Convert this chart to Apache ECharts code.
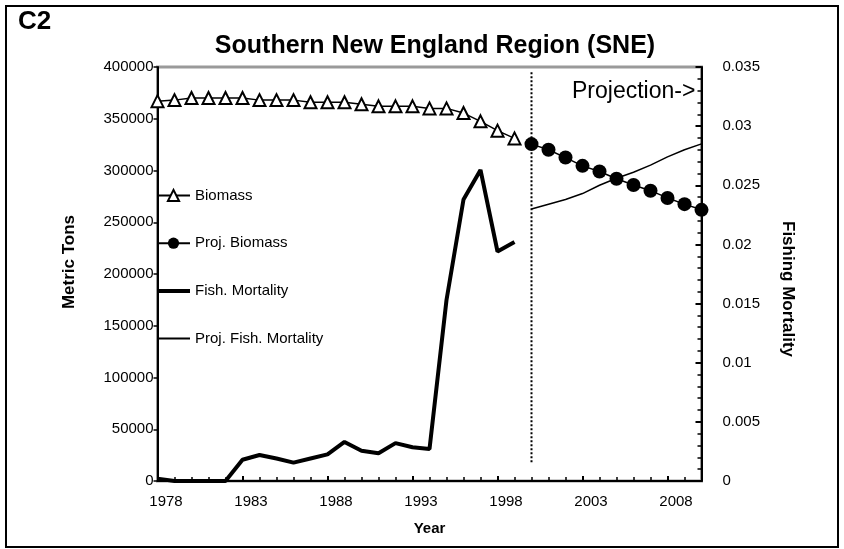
<!DOCTYPE html>
<html>
<head>
<meta charset="utf-8">
<title>Southern New England Region (SNE)</title>
<script src="https://cdn.jsdelivr.net/npm/echarts@6/dist/echarts.min.js"></script>
<style>
html, body { margin: 0; padding: 0; background: #fff; }
#chart { width: 844px; height: 549px; }
</style>
</head>
<body>
<div id="chart"></div>
<script>
// 历史年份 1978-1999, 预测年份 2000-2010
var histYears = [1978, 1979, 1980, 1981, 1982, 1983, 1984, 1985, 1986, 1987, 1988,
	1989, 1990, 1991, 1992, 1993, 1994, 1995, 1996, 1997, 1998, 1999];
var projYears = [2000, 2001, 2002, 2003, 2004, 2005, 2006, 2007, 2008, 2009, 2010];

// metric tons
var biomass = [367000, 368000, 370000, 370000, 370000, 370000, 368000, 368000, 368000,
	366000, 366000, 366000, 364000, 362000, 362000, 362000, 360000, 360000, 355500,
	347500, 338500, 331000];
var projBiomass = [325500, 320000, 312500, 304500, 299000, 292000, 286000, 280500,
	273500, 267500, 262000];

// fishing mortality (right axis)
var fishMortality = [0.0002, 0, 0, 0, 0, 0.0018, 0.0022, 0.0019, 0.00155, 0.0019,
	0.00225, 0.0033, 0.00255, 0.00235, 0.0032, 0.00285, 0.0027, 0.0153, 0.0238,
	0.0263, 0.0194, 0.0202];
var projFishMortality = [0.0230, 0.0234, 0.0238, 0.0243, 0.0250, 0.0256, 0.0261,
	0.0267, 0.0274, 0.0280, 0.0285];

// dotted projection marker (year, metric tons)
var projectionMark = [[2000, 18000], [2000, 395000]];

var yearTicks = { min: 1978, max: 2010, interval: 5 };

function pairs(xs, ys) {
	var out = [];
	for (var i = 0; i < xs.length; i++) {
		out.push([xs[i], ys[i]]);
	}
	return out;
}

// 不要千位分隔符
function plain(v) {
	return String(v);
}

var chart = echarts.init(document.getElementById('chart'), null, { renderer: 'canvas' });
var font = '"Liberation Sans", Arial, sans-serif';

chart.setOption({
	animation: false,
	backgroundColor: '#fff',
	textStyle: { fontFamily: font, color: '#000' },
	title: {
		text: 'Southern New England Region (SNE)',
		left: 430,
		textAlign: 'center',
		top: 29,
		textStyle: { fontSize: 25, fontWeight: 'bold', color: '#000', fontFamily: font }
	},
	graphic: [{
		type: 'rect',
		shape: { x: 6, y: 6, width: 832, height: 541 },
		style: { fill: null, stroke: '#000', lineWidth: 2 },
		silent: true
	}, {
		type: 'text',
		left: 18,
		top: 9,
		style: { text: 'C2', font: 'bold 26px ' + font, fill: '#000' }
	}, {
		type: 'text',
		left: 572,
		top: 80,
		style: { text: 'Projection->', font: '23px ' + font, fill: '#000' }
	}],
	legend: {
		orient: 'vertical',
		left: 150,
		top: 183,
		itemWidth: 33,
		itemHeight: 14,
		itemGap: 32.7,
		textStyle: { fontSize: 15, color: '#000', fontFamily: font },
		data: [
			{ name: 'Biomass' },
			{ name: 'Proj. Biomass' },
			{ name: 'Fish. Mortality', lineStyle: { width: 4 }, itemStyle: { opacity: 0 } },
			{ name: 'Proj. Fish. Mortality', itemStyle: { opacity: 0 } }
		]
	},
	grid: {
		left: 157.5,
		right: 142.5,
		top: 67,
		bottom: 68,
		containLabel: false,
		show: true,
		borderColor: '#9a9a9a',
		borderWidth: 3
	},
	xAxis: {
		type: 'value',
		min: yearTicks.min,
		max: yearTicks.max,
		interval: yearTicks.interval,
		name: 'Year',
		nameLocation: 'middle',
		nameGap: 40,
		nameTextStyle: { fontSize: 15, fontWeight: 'bold', color: '#000' },
		axisLine: { lineStyle: { color: '#000', width: 2 } },
		axisTick: { inside: true, length: 5, lineStyle: { color: '#000', width: 2 } },
		minorTick: { show: true, splitNumber: 5, length: 4, lineStyle: { color: '#000', width: 1.5 } },
		axisLabel: { fontSize: 15, color: '#000', margin: 13, padding: [0, 0, 0, 17], showMaxLabel: false, formatter: plain },
		splitLine: { show: false }
	},
	yAxis: [{
		type: 'value',
		min: 0,
		max: 400000,
		interval: 50000,
		name: 'Metric Tons',
		nameLocation: 'middle',
		nameGap: 80,
		nameTextStyle: { fontSize: 17, fontWeight: 'bold', color: '#000', padding: [0, 0, 0, 24] },
		axisLine: { show: true, lineStyle: { color: '#000', width: 2 } },
		axisTick: { show: true, length: 4, lineStyle: { color: '#000', width: 1.5 } },
		axisLabel: { fontSize: 15, color: '#000', margin: 4, formatter: plain },
		splitLine: { show: false }
	}, {
		type: 'value',
		position: 'right',
		min: 0,
		max: 0.035,
		interval: 0.005,
		name: 'Fishing Mortality',
		nameLocation: 'middle',
		nameRotate: -90,
		nameGap: 78,
		nameTextStyle: { fontSize: 17, fontWeight: 'bold', color: '#000', padding: [0, 0, 0, 30] },
		axisLine: { show: true, lineStyle: { color: '#000', width: 2 } },
		axisTick: { show: true, inside: true, length: 6, lineStyle: { color: '#000', width: 2 } },
		minorTick: { show: true, splitNumber: 5, length: 4, lineStyle: { color: '#000', width: 1.5 } },
		axisLabel: { fontSize: 15, color: '#000', margin: 21 },
		splitLine: { show: false }
	}],
	series: [{
		name: 'Fish. Mortality',
		type: 'line',
		yAxisIndex: 1,
		symbol: 'none',
		data: pairs(histYears, fishMortality),
		lineStyle: { color: '#000', width: 4 },
		itemStyle: { color: '#000' }
	}, {
		name: 'Proj. Fish. Mortality',
		type: 'line',
		yAxisIndex: 1,
		symbol: 'none',
		data: pairs(projYears, projFishMortality),
		lineStyle: { color: '#000', width: 1.5 },
		itemStyle: { color: '#000' }
	}, {
		name: 'Biomass',
		type: 'line',
		yAxisIndex: 0,
		symbol: 'emptyTriangle',
		symbolSize: 12,
		data: pairs(histYears, biomass),
		lineStyle: { color: '#000', width: 1.5 },
		itemStyle: { color: '#000', borderColor: '#000', borderWidth: 1.5 }
	}, {
		name: 'Proj. Biomass',
		type: 'line',
		yAxisIndex: 0,
		symbol: 'circle',
		symbolSize: 14,
		data: pairs(projYears, projBiomass),
		lineStyle: { color: '#000', width: 1.5 },
		itemStyle: { color: '#000' }
	}, {
		name: 'projection',
		type: 'line',
		yAxisIndex: 0,
		symbol: 'none',
		data: projectionMark,
		lineStyle: { color: '#000', width: 2, type: [2, 2] },
		silent: true
	}]
});
</script>
</body>
</html>
